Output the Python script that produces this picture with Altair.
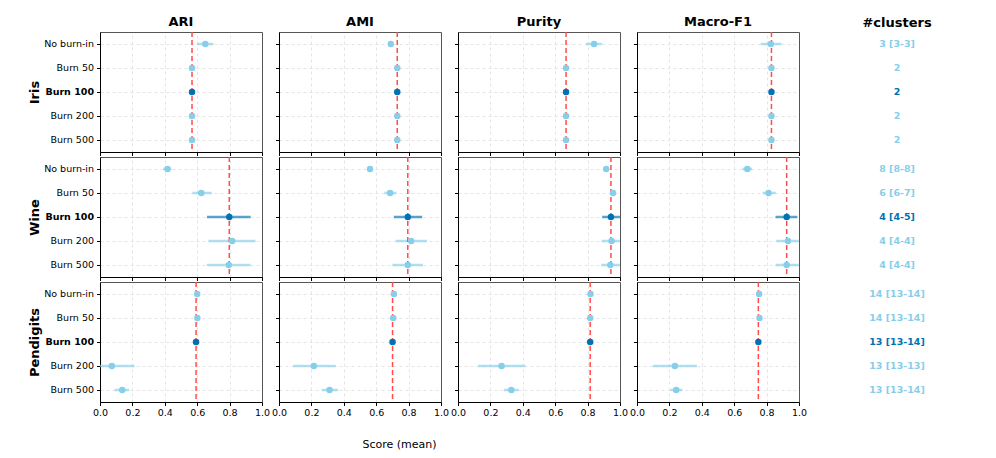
import altair as alt
import pandas as pd

datasets = ["Iris", "Wine", "Pendigits"]
metrics = ["ARI", "AMI", "Purity", "Macro-F1"]
settings = ["No burn-in", "Burn 50", "Burn 100", "Burn 200", "Burn 500"]
ref_setting = "Burn 100"

# mean, lower, upper per dataset -> metric -> 5 settings
iris_mean = {
    "ARI": [0.650, 0.568, 0.568, 0.568, 0.568],
    "AMI": [0.690, 0.730, 0.730, 0.730, 0.730],
    "Purity": [0.840, 0.667, 0.667, 0.667, 0.667],
    "Macro-F1": [0.826, 0.830, 0.830, 0.830, 0.830],
}
iris_lo = {
    "ARI": [0.600, 0.566, 0.566, 0.566, 0.566],
    "AMI": [0.680, 0.728, 0.728, 0.728, 0.728],
    "Purity": [0.790, 0.665, 0.665, 0.665, 0.665],
    "Macro-F1": [0.763, 0.828, 0.828, 0.828, 0.828],
}
iris_hi = {
    "ARI": [0.700, 0.570, 0.570, 0.570, 0.570],
    "AMI": [0.700, 0.732, 0.732, 0.732, 0.732],
    "Purity": [0.890, 0.669, 0.669, 0.669, 0.669],
    "Macro-F1": [0.892, 0.832, 0.832, 0.832, 0.832],
}
wine_mean = {
    "ARI": [0.417, 0.625, 0.798, 0.816, 0.795],
    "AMI": [0.562, 0.686, 0.795, 0.816, 0.795],
    "Purity": [0.915, 0.957, 0.944, 0.948, 0.940],
    "Macro-F1": [0.681, 0.812, 0.924, 0.932, 0.924],
}
wine_lo = {
    "ARI": [0.390, 0.570, 0.660, 0.670, 0.660],
    "AMI": [0.555, 0.650, 0.709, 0.720, 0.700],
    "Purity": [0.900, 0.950, 0.890, 0.886, 0.884],
    "Macro-F1": [0.650, 0.775, 0.855, 0.860, 0.855],
}
wine_hi = {
    "ARI": [0.440, 0.690, 0.930, 0.960, 0.930],
    "AMI": [0.570, 0.725, 0.884, 0.913, 0.889],
    "Purity": [0.930, 0.965, 1.000, 1.000, 1.000],
    "Macro-F1": [0.710, 0.857, 0.990, 1.000, 1.000],
}
pend_mean = {
    "ARI": [0.600, 0.601, 0.593, 0.073, 0.137],
    "AMI": [0.709, 0.705, 0.701, 0.215, 0.312],
    "Purity": [0.818, 0.816, 0.816, 0.269, 0.329],
    "Macro-F1": [0.754, 0.756, 0.749, 0.234, 0.242],
}
pend_lo = {
    "ARI": [0.595, 0.595, 0.575, 0.000, 0.090],
    "AMI": [0.705, 0.700, 0.695, 0.087, 0.265],
    "Purity": [0.814, 0.812, 0.812, 0.124, 0.284],
    "Macro-F1": [0.750, 0.752, 0.745, 0.097, 0.205],
}
pend_hi = {
    "ARI": [0.605, 0.607, 0.610, 0.213, 0.180],
    "AMI": [0.713, 0.710, 0.707, 0.350, 0.365],
    "Purity": [0.822, 0.820, 0.820, 0.416, 0.375],
    "Macro-F1": [0.758, 0.760, 0.753, 0.370, 0.280],
}
cluster_labels = {
    "Iris": ["3 [3-3]", "2", "2", "2", "2"],
    "Wine": ["8 [8-8]", "6 [6-7]", "4 [4-5]", "4 [4-4]", "4 [4-4]"],
    "Pendigits": ["14 [13-14]", "14 [13-14]", "13 [13-14]", "13 [13-13]", "13 [13-14]"],
}
x_ticks = [0.0, 0.2, 0.4, 0.6, 0.8, 1.0]

means = {"Iris": iris_mean, "Wine": wine_mean, "Pendigits": pend_mean}
los = {"Iris": iris_lo, "Wine": wine_lo, "Pendigits": pend_lo}
his = {"Iris": iris_hi, "Wine": wine_hi, "Pendigits": pend_hi}

LIGHT = "#87CEEB"
DARK = "#0072B2"
PW, PH = 162, 120

color_cond = alt.condition(alt.datum.setting == ref_setting, alt.value(DARK), alt.value(LIGHT))
label_weight = {"condition": {"test": f"datum.value == '{ref_setting}'", "value": "bold"}, "value": "normal"}
xgrid_color = {"condition": {"test": "datum.value <= 0 || datum.value >= 1", "value": "transparent"},
               "value": "#e4e4e4"}


def panel(ds, ri, ci, metric):
    df = pd.DataFrame({
        "setting": settings,
        "mean": means[ds][metric],
        "lo": los[ds][metric],
        "hi": his[ds][metric],
    })
    ref_val = means[ds][metric][settings.index(ref_setting)]
    refdf = pd.DataFrame({"ref": [ref_val]})
    bottom = ri == len(datasets) - 1
    first = ci == 0
    xaxis_kw = dict(
        values=x_ticks, format=".1f", labels=bottom,
        labelFlush=False, labelOverlap=False, grid=True, gridDash=[3, 3], gridColor=xgrid_color,
        tickSize=3.5, tickColor="black", domainColor="black", labelFontSize=9.5,
        labelPadding=2, labelColor="black",
    )
    if bottom and ci == 1:
        xaxis_kw.update(title="Score (mean)", titleFontSize=11, titleFontWeight="normal",
                        titleX=120, titleY=42, titleBaseline="middle", titleAlign="center",
                        titleColor="black")
    else:
        xaxis_kw.update(title=None)
    yaxis_kw = dict(
        labels=first, grid=True, gridDash=[3, 3], gridColor="#e4e4e4", tickSize=3.5,
        tickColor="black", domainColor="black", labelFontSize=9.5, labelPadding=3,
        labelColor="black", labelFontWeight=label_weight,
    )
    if first:
        yaxis_kw.update(title=ds, titleFontSize=13, titleFontWeight="bold", titlePadding=2,
                        titleColor="black")
    else:
        yaxis_kw.update(title=None)
    xaxis = alt.Axis(**xaxis_kw)
    yaxis = alt.Axis(**yaxis_kw)
    xscale = alt.Scale(domain=[0, 1], nice=False, zero=False)
    err = alt.Chart(df).mark_rule(strokeWidth=2.5, opacity=0.65, clip=True).encode(
        x=alt.X("lo:Q", scale=xscale, axis=xaxis),
        x2="hi:Q", y=alt.Y("setting:N", sort=settings, axis=yaxis), color=color_cond,
    )
    refl = alt.Chart(refdf).mark_rule(strokeDash=[5, 3], color="#ff4d4d", strokeWidth=1.5).encode(
        x=alt.X("ref:Q", scale=xscale, axis=xaxis)
    )
    pts = alt.Chart(df).mark_circle(size=42, opacity=1).encode(
        x=alt.X("mean:Q", scale=xscale, axis=xaxis),
        y=alt.Y("setting:N", sort=settings, axis=yaxis), color=color_cond,
    )
    ch = alt.layer(err, refl, pts).properties(width=PW, height=PH)
    if ri == 0:
        ch = ch.properties(title=alt.TitleParams(metric, fontSize=13, fontWeight="bold", offset=2,
                                                 color="black"))
    return ch


def text_panel(ds, ri):
    df = pd.DataFrame({"setting": settings, "label": cluster_labels[ds]})
    ch = alt.Chart(df, view=alt.ViewBackground(stroke=None)).mark_text(
        fontWeight="bold", fontSize=9.5, align="center", baseline="middle"
    ).encode(
        y=alt.Y("setting:N", sort=settings, axis=None),
        x=alt.value(PW / 2),
        text="label:N",
        color=color_cond,
    ).properties(width=PW, height=PH)
    if ri == 0:
        ch = ch.properties(title=alt.TitleParams("#clusters", fontSize=13, fontWeight="bold",
                                                 offset=2, color="black"))
    return ch


cells = []
for ri, ds in enumerate(datasets):
    for ci, m in enumerate(metrics):
        cells.append(panel(ds, ri, ci, m))
    cells.append(text_panel(ds, ri))

chart = alt.concat(
    *cells, columns=5, spacing=alt.RowColnumber(row=5, column=17), bounds="flush"
).properties(
    padding={"left": 20, "top": 7, "right": 5, "bottom": 5}
).configure(font="DejaVu Sans").configure_view(stroke="#555555", strokeWidth=1)

chart.save("out.html", embed_options={"renderer": "svg", "actions": False})
